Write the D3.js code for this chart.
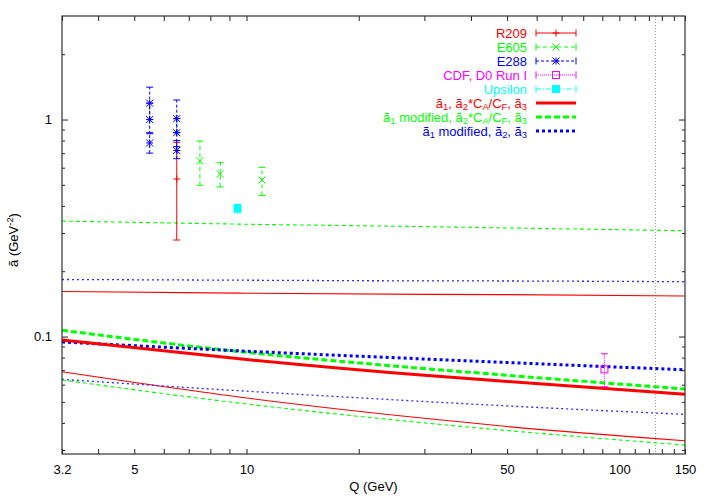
<!DOCTYPE html>
<html><head><meta charset="utf-8">
<script src="https://cdn.jsdelivr.net/npm/d3@7"></script>
<style>body{margin:0;background:#fff} text{font-family:"Liberation Sans",Arial,Helvetica,sans-serif}</style>
</head><body><svg id="c" width="708" height="496"></svg>
<script>
// ---------------- data ----------------
const curveQ = [3.2, 10, 30, 50, 150];
const greenUpper = [0.3406, 0.3293, 0.3210, 0.3166, 0.3073];
const blueUpper  = [0.1832, 0.1818, 0.1805, 0.1803, 0.1789];
const redUpper   = [0.1612, 0.1584, 0.1565, 0.1560, 0.1537];
const greenMain  = [0.1068, 0.0846, 0.0712, 0.0663, 0.0573];
const redMain    = [0.0964, 0.0784, 0.0663, 0.0621, 0.0542];
const blueMain   = [0.0944, 0.0856, 0.0788, 0.0759, 0.0703];
const redLower   = [0.0688, 0.0521, 0.0420, 0.0385, 0.0331];
const blueLower  = [0.0635, 0.0560, 0.0502, 0.0479, 0.0438];
const greenLower = [0.0631, 0.0489, 0.0400, 0.0369, 0.0316];

// experiments: Q, value, low, high
const r209Q = [6.5], r209V = [0.532], r209Lo = [0.2785], r209Hi = [0.785];
const e605Q = [7.5, 8.5, 11], e605V = [0.646, 0.561, 0.526], e605Lo = [0.498, 0.489, 0.447], e605Hi = [0.796, 0.633, 0.602];
const e288Q = [5.5, 5.5, 5.5, 6.5, 6.5, 6.5];
const e288V = [1.19, 1.00, 0.78, 1.01, 0.87, 0.72];
const e288Lo = [1.00, 0.86, 0.70, 0.87, 0.75, 0.66];
const e288Hi = [1.41, 1.19, 0.87, 1.23, 1.01, 0.80];
const cdfQ = [91.19], cdfV = [0.0706], cdfLo = [0.0587], cdfHi = [0.0833];
const upsQ = [9.46], upsV = [0.390], upsLo = [0.372], upsHi = [0.407];

const higgsQ = 125;
const xTickLabels = [3.2, 5, 10, 50, 100, 150];
const xMinorTicks = [4, 6, 7, 8, 9, 20, 30, 40, 60, 70, 80, 90, 110, 120, 130, 140];
const yTickLabels = [0.1, 1];
const yMinorTicks = [0.03, 0.04, 0.05, 0.06, 0.07, 0.08, 0.09, 0.2, 0.3, 0.4, 0.5, 0.6, 0.7, 0.8, 0.9, 2];
const xDomain = [3.2, 150];
const yDomain = [0.02876, 3];

const legendLabels = ["R209", "E605", "E288", "CDF, D0 Run I", "Upsilon",
  "ã_1, ã_2*C_A/C_F, ã_3", "ã_1 modified, ã_2*C_A/C_F, ã_3", "ã_1 modified, ã_2, ã_3"];

// ---------------- drawing ----------------
const svg = d3.select("#c");
const L = 62, R = 685, T = 16, B = 454;
const x = d3.scaleLog().domain(xDomain).range([L, R]);
const y = d3.scaleLog().domain(yDomain).range([B, T]);

const RED = "#ff0000", GREEN = "#00ff00", BLUE = "#0000ff", MAG = "#ff00ff", CYAN = "#00ffff";

// higgs line
svg.append("line").attr("x1", x(higgsQ)).attr("x2", x(higgsQ)).attr("y1", T).attr("y2", B)
  .attr("stroke", "#999").attr("stroke-width", 1).attr("stroke-dasharray", "1,2");

// curves
const line = d3.line().x((d, i) => x(curveQ[i])).y(d => y(d)).curve(d3.curveMonotoneX);
const curves = [
  {v: greenUpper, c: GREEN, w: 1.1, d: "4,3"},
  {v: blueUpper, c: "#2a2aff", w: 1.3, d: "2,3"},
  {v: redUpper, c: RED, w: 1.1, d: null},
  {v: redLower, c: RED, w: 1.1, d: null},
  {v: blueLower, c: "#2a2aff", w: 1.3, d: "2,3"},
  {v: greenLower, c: GREEN, w: 1.1, d: "4,3"},
  {v: greenMain, c: GREEN, w: 3, d: "6,3"},
  {v: blueMain, c: BLUE, w: 3, d: "3,3"},
  {v: redMain, c: RED, w: 3, d: null},
];
curves.forEach(cv => {
  svg.append("path").attr("d", line(cv.v)).attr("fill", "none")
    .attr("stroke", cv.c).attr("stroke-width", cv.w)
    .attr("stroke-dasharray", cv.d);
});

// markers
function marker(g, type, cx, cy, col) {
  const s = 3.5;
  if (type === "plus" || type === "star") {
    g.append("line").attr("x1", cx - s).attr("x2", cx + s).attr("y1", cy).attr("y2", cy).attr("stroke", col);
    g.append("line").attr("x1", cx).attr("x2", cx).attr("y1", cy - s).attr("y2", cy + s).attr("stroke", col);
  }
  if (type === "cross" || type === "star") {
    g.append("line").attr("x1", cx - s).attr("x2", cx + s).attr("y1", cy - s).attr("y2", cy + s).attr("stroke", col);
    g.append("line").attr("x1", cx - s).attr("x2", cx + s).attr("y1", cy + s).attr("y2", cy - s).attr("stroke", col);
  }
  if (type === "box") {
    g.append("rect").attr("x", cx - s).attr("y", cy - s).attr("width", 2 * s).attr("height", 2 * s)
      .attr("fill", "none").attr("stroke", col);
  }
  if (type === "fbox") {
    g.append("rect").attr("x", cx - s).attr("y", cy - s).attr("width", 2 * s).attr("height", 2 * s)
      .attr("fill", col).attr("stroke", col);
  }
}
const exps = [
  {q: r209Q, v: r209V, lo: r209Lo, hi: r209Hi, c: RED, m: "plus", d: null},
  {q: e605Q, v: e605V, lo: e605Lo, hi: e605Hi, c: GREEN, m: "cross", d: "4,3"},
  {q: e288Q, v: e288V, lo: e288Lo, hi: e288Hi, c: BLUE, m: "star", d: "3,2"},
  {q: cdfQ, v: cdfV, lo: cdfLo, hi: cdfHi, c: MAG, m: "box", d: "1,1"},
  {q: upsQ, v: upsV, lo: upsLo, hi: upsHi, c: CYAN, m: "fbox", d: "5,2,1,2"},
];
exps.forEach(e => {
  const g = svg.append("g");
  e.q.forEach((q, i) => {
    const cx = x(q);
    g.append("line").attr("x1", cx).attr("x2", cx).attr("y1", y(e.lo[i])).attr("y2", y(e.hi[i]))
      .attr("stroke", e.c).attr("stroke-dasharray", e.d);
    [e.lo[i], e.hi[i]].forEach(v => g.append("line").attr("x1", cx - 3.5).attr("x2", cx + 3.5)
      .attr("y1", y(v)).attr("y2", y(v)).attr("stroke", e.c));
    marker(g, e.m, cx, y(e.v[i]), e.c);
  });
});

// axes
const axG = svg.append("g");
function styleAxis(g) { g.select(".domain").remove(); g.selectAll("line").attr("stroke", "#222");
  g.selectAll("text").attr("font-size", 13).attr("fill", "#000").attr("font-family", '"Liberation Sans",Arial,sans-serif'); }
axG.append("g").attr("transform", `translate(0,${B})`)
  .call(d3.axisBottom(x).tickValues(xTickLabels.concat(xMinorTicks)).tickSize(-5).tickPadding(11)
    .tickFormat(d => xTickLabels.includes(d) ? String(d) : "")).call(styleAxis);
axG.append("g").attr("transform", `translate(0,${T})`)
  .call(d3.axisTop(x).tickValues(xTickLabels.concat(xMinorTicks)).tickSize(-5).tickFormat("")).call(styleAxis);
axG.append("g").attr("transform", `translate(${L},0)`)
  .call(d3.axisLeft(y).tickValues(yTickLabels).tickSize(-6).tickPadding(10).tickFormat(d => String(d))).call(styleAxis);
axG.append("g").attr("transform", `translate(${L},0)`)
  .call(d3.axisLeft(y).tickValues(yMinorTicks).tickSize(-3).tickFormat("")).call(styleAxis);
axG.append("g").attr("transform", `translate(${R},0)`)
  .call(d3.axisRight(y).tickValues(yTickLabels).tickSize(-6).tickFormat("")).call(styleAxis);
axG.append("g").attr("transform", `translate(${R},0)`)
  .call(d3.axisRight(y).tickValues(yMinorTicks).tickSize(-3).tickFormat("")).call(styleAxis);
svg.append("rect").attr("x", L).attr("y", T).attr("width", R - L).attr("height", B - T)
  .attr("fill", "none").attr("stroke", "#333").attr("stroke-width", 1.2);

// rich text helper: "_X" subscript, "^X" superscript (single token)
function rich(t, str, fs) {
  const re = /([_^])(\{[^}]*\}|.)|([^_^]+)/g;
  let m, shift = 0;
  while ((m = re.exec(str)) !== null) {
    if (m[3]) {
      t.append("tspan").attr("dy", -shift).attr("font-size", fs).text(m[3]); shift = 0;
    } else {
      const txt = m[2].replace(/[{}]/g, "");
      const s = m[1] === "_" ? fs * 0.22 : -fs * 0.4;
      t.append("tspan").attr("dy", s - shift).attr("font-size", fs * 0.72).text(txt); shift = s;
    }
  }
}

// axis titles
const xt = svg.append("text").attr("x", (L + R) / 2).attr("y", 491).attr("text-anchor", "middle").attr("font-size", 13);
rich(xt, "Q (GeV)", 13);
const yt = svg.append("text").attr("transform", "translate(18,240) rotate(-90)").attr("text-anchor", "middle").attr("font-size", 13);
rich(yt, "ã (GeV^{-2})", 13);

// legend
const legColors = [RED, GREEN, BLUE, MAG, CYAN, RED, GREEN, BLUE];
const lx1 = 536, lx2 = 576, ltx = 527;
legendLabels.forEach((lab, i) => {
  const cy = 33 + i * 14;
  const t = svg.append("text").attr("x", ltx).attr("y", cy + 4.5).attr("text-anchor", "end")
    .attr("fill", legColors[i]).attr("font-size", 13);
  rich(t, lab, 13);
  if (i < 5) {
    const e = exps[i];
    svg.append("line").attr("x1", lx1).attr("x2", lx2).attr("y1", cy).attr("y2", cy)
      .attr("stroke", e.c).attr("stroke-dasharray", e.d);
    [lx1, lx2].forEach(xx => svg.append("line").attr("x1", xx).attr("x2", xx).attr("y1", cy - 3.5).attr("y2", cy + 3.5).attr("stroke", e.c));
    marker(svg.append("g"), e.m, (lx1 + lx2) / 2, cy, e.c);
  } else {
    const cv = curves[[8, 6, 7][i - 5]];
    svg.append("line").attr("x1", lx1).attr("x2", lx2).attr("y1", cy).attr("y2", cy)
      .attr("stroke", cv.c).attr("stroke-width", 3).attr("stroke-dasharray", cv.d);
  }
});
</script></body></html>
